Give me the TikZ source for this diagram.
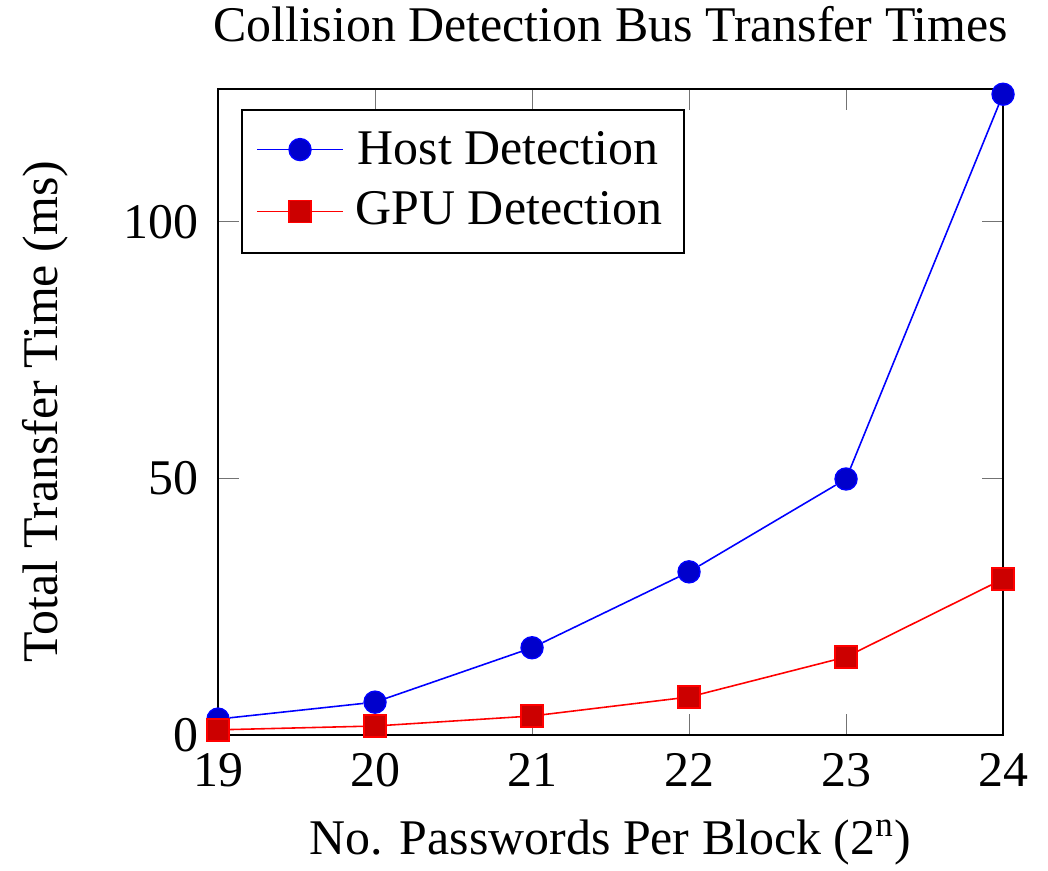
\documentclass[tikz,border=0pt]{standalone}
\usepackage{fontspec}
\setmainfont{Liberation Serif}
\tikzset{
  hostline/.style={blue, line width=0.45pt},
  gpuline/.style={red, line width=0.45pt},
  hostmark/.style={circle, draw=blue, fill=blue!80!black, line width=0.4pt, minimum size=2.2mm, inner sep=0pt},
  gpumark/.style={rectangle, draw=red, fill=red!80!black, line width=0.4pt, minimum size=2.2mm, inner sep=0pt},
  tickline/.style={black!55, line width=0.3pt},
}
\begin{document}
\begin{tikzpicture}[x=1.57cm,y=0.513mm,inner sep=0pt,font=\fontsize{14.2}{17}\selectfont]
        \useasboundingbox (17.6115,-26.51) rectangle (24.2866,143.27);
        \pgfmathsetmacro\ymax{126}
        % ticks on all four sides, pointing inwards
        \foreach \n in {19,...,24} {
            \draw[tickline] (\n,0) -- ++(0,2.1mm);
            \draw[tickline] (\n,\ymax) -- ++(0,-2.1mm);
            \node[anchor=base, yshift=-5.2mm] (xl\n) at (\n,0) {\n};
        }
        \foreach \v in {0,50,100} {
            \draw[tickline] (19,\v) -- ++(2.1mm,0);
            \draw[tickline] (24,\v) -- ++(-2.1mm,0);
            \node[anchor=east, xshift=-1.9mm] (yl\v) at (19,\v) {\v};
        }
        \draw[line width=0.6pt] (19,0) rectangle (24,\ymax);
        \node[anchor=base, yshift=4.7mm] (title) at (21.5,\ymax) {Collision Detection Bus Transfer Times};
        \node[anchor=base, yshift=-12mm] (xlabel) at (21.5,0) {No. Passwords Per Block (2\textsuperscript{n})};
        \node[rotate=90, anchor=base] (ylabel) at (17.9745,63) {Total Transfer Time (ms)};
        % measured times
        \foreach \n/\h/\g in {19/3.1/1.0, 20/6.4/1.75, 21/17.0/3.7, 22/31.8/7.4, 23/49.9/15.2, 24/124.9/30.4} {
            \node[hostmark] (h\n) at (\n,\h) {};
            \node[gpumark] (g\n) at (\n,\g) {};
        }
        \foreach \a/\b in {19/20, 20/21, 21/22, 22/23, 23/24} {
            \draw[hostline] (h\a) -- (h\b);
            \draw[gpuline] (g\a) -- (g\b);
        }
        % legend
        \node[draw, fill=white, line width=0.55pt, anchor=north west, minimum width=4.42cm, minimum height=1.43cm,
              xshift=2.3mm, yshift=-2mm] (legend) at (19,\ymax) {};
        \coordinate (hk1) at ([xshift=1.6mm, yshift=-4.1mm]legend.north west);
        \coordinate (hk2) at ([xshift=10.2mm, yshift=-4.1mm]legend.north west);
        \coordinate (gk1) at ([xshift=1.6mm, yshift=-10.3mm]legend.north west);
        \coordinate (gk2) at ([xshift=10.2mm, yshift=-10.3mm]legend.north west);
        \draw[hostline] (hk1) -- (hk2);
        \draw[gpuline] (gk1) -- (gk2);
        \node[hostmark] (hostkey) at ([xshift=5.9mm, yshift=-4.1mm]legend.north west) {};
        \node[gpumark] (gpukey) at ([xshift=5.9mm, yshift=-10.3mm]legend.north west) {};
        \node[anchor=base west] (hosttext) at ([xshift=11.6mm, yshift=-5.6mm]legend.north west) {Host Detection};
        \node[anchor=base west] (gputext) at ([xshift=11.4mm, yshift=-11.6mm]legend.north west) {GPU Detection};
    \end{tikzpicture}
\end{document}
